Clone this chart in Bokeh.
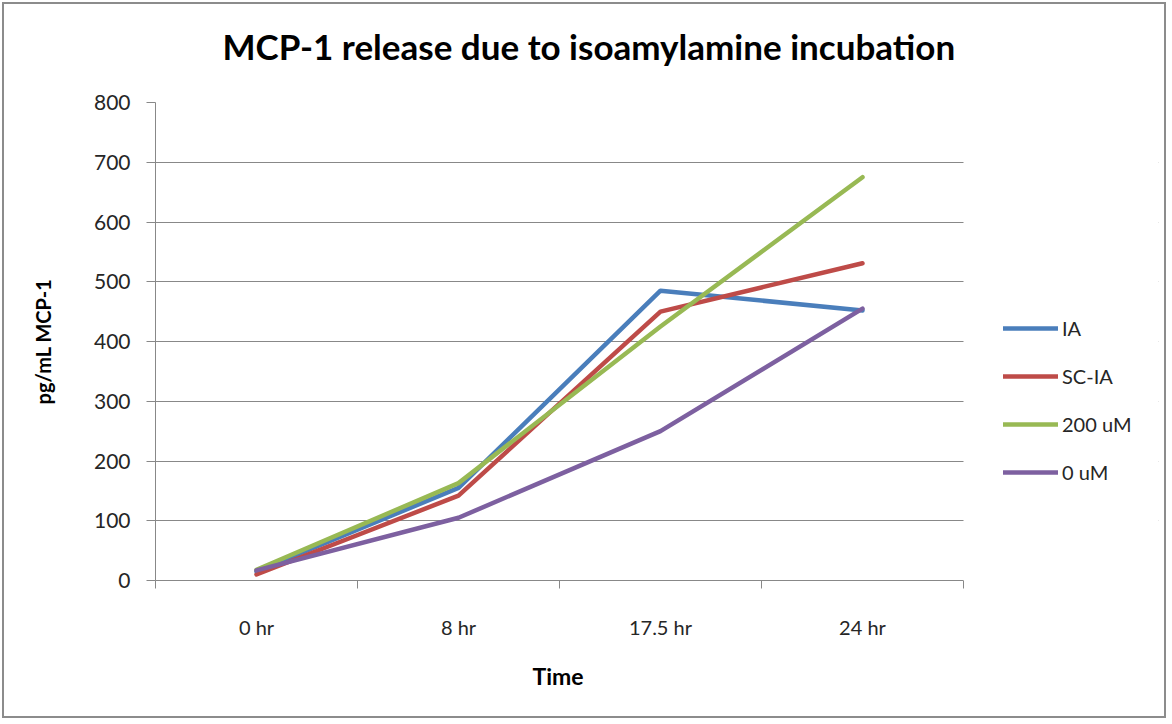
from bokeh.plotting import figure
from bokeh.models import (FixedTicker, Range1d, Legend, LegendItem, BoxAnnotation,
                          Title)
from bokeh.embed import file_html
from bokeh.resources import INLINE

# ---- data ----
categories = ["0 hr", "8 hr", "17.5 hr", "24 hr"]
ia = [15, 155, 485, 452]
sc_ia = [10, 142, 450, 531]
um200 = [18, 163, 425, 675]
um0 = [17, 105, 250, 455]
series_names = ["IA", "SC-IA", "200 uM", "0 uM"]
series_colors = ["#4A7EBB", "#BE4B48", "#98B954", "#7D60A0"]
y_ticks = [0, 100, 200, 300, 400, 500, 600, 700, 800]

FONT = "Lato"
TXT = "#262626"
GRID = "#888888"

W, H = 1164, 716
LEFT, TOP, RIGHT, BOTTOM = 151, 98, 10, 140
CAT_PX = 808  # width of the category area in pixels
frame_w = W - LEFT - RIGHT
n = len(categories)
x_end = n * frame_w / CAT_PX

xs = [i + 0.5 for i in range(n)]

p = figure(width=W, height=H, output_backend="svg", toolbar_location=None,
           x_range=Range1d(0, x_end), y_range=Range1d(0, 800),
           min_border_left=LEFT, min_border_right=RIGHT, min_border_top=TOP,
           min_border_bottom=BOTTOM,
           title="MCP-1 release due to isoamylamine incubation")
p.styles = {"border": "2px solid #8c8c8c", "margin": "2px"}
p.outline_line_color = None
p.background_fill_color = "white"
p.border_fill_color = "white"

p.title.align = "left"
p.title.offset = 67
p.title.standoff = 30
p.title.text_font = FONT
p.title.text_font_size = "35px"
p.title.text_font_style = "bold"
p.title.text_color = "black"

# spacer panel between the title and the plot area
p.add_layout(Title(text=" ", standoff=18, text_font_size="1px",
                   text_color="white"), "above")

# x axis
p.xaxis.bounds = (0, n)
p.xaxis.ticker = FixedTicker(ticks=xs, minor_ticks=list(range(n + 1)))
p.xaxis.major_label_overrides = {x: c for x, c in zip(xs, categories)}
p.xaxis.major_tick_line_color = None
p.xaxis.major_tick_out = 8
p.xaxis.major_tick_in = 0
p.xaxis.minor_tick_line_color = GRID
p.xaxis.minor_tick_out = 8
p.xaxis.minor_tick_in = 0
p.xaxis.major_label_standoff = 26
p.xaxis.axis_line_color = GRID
p.xaxis.major_label_text_font = FONT
p.xaxis.major_label_text_font_size = "20px"
p.xaxis.major_label_text_color = TXT

# x axis title, centred under the category area
p.add_layout(Title(text="Time", align="left", offset=377, standoff=36,
                   text_font=FONT, text_font_size="23px",
                   text_font_style="bold", text_color="black"), "below")

# y axis
p.yaxis.ticker = FixedTicker(ticks=y_ticks)
p.yaxis.major_tick_out = 9
p.yaxis.major_tick_in = 0
p.yaxis.major_tick_line_color = GRID
p.yaxis.minor_tick_line_color = None
p.yaxis.axis_line_color = GRID
p.yaxis.major_label_standoff = 16
p.yaxis.major_label_text_font = FONT
p.yaxis.major_label_text_font_size = "21px"
p.yaxis.major_label_text_color = TXT
p.yaxis.axis_label = "pg/mL MCP-1"
p.yaxis.axis_label_text_font = FONT
p.yaxis.axis_label_text_font_size = "20px"
p.yaxis.axis_label_text_font_style = "bold"
p.yaxis.axis_label_text_color = "black"
p.yaxis.axis_label_standoff = 36

p.xgrid.grid_line_color = None
p.ygrid.ticker = FixedTicker(ticks=y_ticks)
p.ygrid.grid_line_color = GRID
p.ygrid.grid_line_width = 1

items = []
for name, vals, col in zip(series_names, [ia, sc_ia, um200, um0], series_colors):
    r = p.line(xs, vals, line_color=col, line_width=4.5, line_join="round",
               line_cap="round")
    items.append(LegendItem(label=name, renderers=[r]))

# blank the area right of the category axis (legend area)
p.add_layout(BoxAnnotation(left=n, fill_color="white", fill_alpha=1,
                           line_color=None))

legend = Legend(items=items, location=(848, 96), orientation="vertical")
legend.glyph_width = 55
legend.glyph_height = 24
legend.label_height = 24
legend.spacing = 24
legend.label_standoff = 4
legend.padding = 0
legend.margin = 0
legend.border_line_color = None
legend.background_fill_alpha = 0
legend.label_text_font = FONT
legend.label_text_font_size = "20px"
legend.label_text_color = TXT
p.add_layout(legend, "center")

open("out.html", "w").write(file_html(p, INLINE))
